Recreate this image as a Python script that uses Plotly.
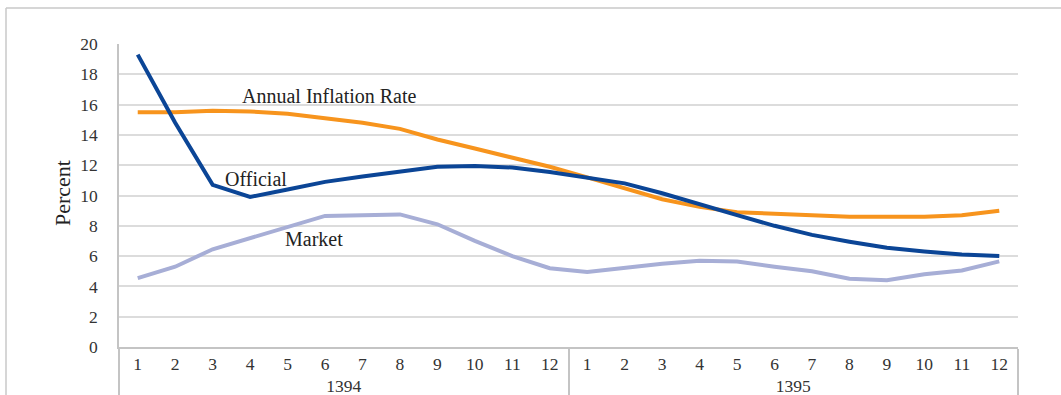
import plotly.graph_objects as go

# Monthly inflation, years 1394 and 1395 (Persian calendar), percent
years = ["1394"] * 12 + ["1395"] * 12
months = [str(m) for m in range(1, 13)] * 2

official = [19.3, 14.8, 10.7, 9.9, 10.4, 10.9, 11.25, 11.6, 11.9, 11.95, 11.85, 11.55,
            11.2, 10.8, 10.15, 9.4, 8.7, 8.0, 7.4, 6.95, 6.55, 6.3, 6.1, 6.0]
annual_inflation = [15.5, 15.5, 15.6, 15.55, 15.4, 15.1, 14.8, 14.4, 13.7, 13.1, 12.5, 11.9,
                    11.2, 10.5, 9.75, 9.25, 8.9, 8.8, 8.7, 8.6, 8.6, 8.6, 8.7, 9.0]
market = [4.55, 5.3, 6.45, 7.2, 7.95, 8.65, 8.7, 8.75, 8.1, 7.0, 6.0, 5.2,
          4.95, 5.25, 5.5, 5.7, 5.65, 5.3, 5.0, 4.5, 4.4, 4.8, 5.05, 5.65]

FONT = "Liberation Serif"
x = [years, months]

fig = go.Figure()
fig.add_trace(go.Scatter(x=x, y=market, mode="lines",
                         line=dict(color="#a7aed6", width=4), name="Market"))
fig.add_trace(go.Scatter(x=x, y=annual_inflation, mode="lines",
                         line=dict(color="#f7941d", width=4), name="Annual Inflation Rate"))
fig.add_trace(go.Scatter(x=x, y=official, mode="lines",
                         line=dict(color="#0b4596", width=4), name="Official"))

fig.update_layout(
    width=1061, height=395,
    margin=dict(l=119, r=43, t=44, b=48, autoexpand=False),
    paper_bgcolor="white", plot_bgcolor="white",
    showlegend=False,
    font=dict(family=FONT, color="#333333", size=17.5),
)

fig.update_xaxes(
    type="multicategory",
    range=[-0.5, len(months) - 0.5],
    showgrid=False,
    showline=True, linecolor="#c4c4c4", linewidth=1.5,
    ticks="",
    showdividers=True, dividercolor="#c4c4c4", dividerwidth=1.5,
    tickfont=dict(family=FONT, size=17.5, color="#333333"),
)
fig.update_yaxes(
    range=[0, 20], dtick=2,
    showgrid=True, gridcolor="#dcdcdc", gridwidth=1.5,
    zeroline=False,
    showline=True, linecolor="#c4c4c4", linewidth=1.5,
    ticks="", ticklabelstandoff=16,
    tickfont=dict(family=FONT, size=17.5, color="#333333"),
)

# Series labels drawn inside the plot
labels = [
    ("Annual Inflation Rate", 0.2347, 0.828),
    ("Official", 0.1524, 0.554),
    ("Market", 0.2169, 0.357),
]
for text, px, py in labels:
    fig.add_annotation(text=text, x=px, y=py, xref="paper", yref="paper",
                       showarrow=False, xanchor="center", yanchor="middle",
                       font=dict(family=FONT, size=20, color="#222222"))

fig.add_annotation(text="Percent", x=-0.0634, y=0.508, xref="paper", yref="paper",
                   showarrow=False, textangle=-90, xanchor="center", yanchor="middle",
                   font=dict(family=FONT, size=22, color="#222222"))

# Outer chart frame (left and top edges)
fx = (6 - 119) / 899
fy = (347 - 8) / 303
fig.add_shape(type="line", xref="paper", yref="paper", x0=fx, x1=fx, y0=fy, y1=-0.3,
              line=dict(color="#c8c8c8", width=1.5))
fig.add_shape(type="line", xref="paper", yref="paper", x0=fx, x1=1.1, y0=fy, y1=fy,
              line=dict(color="#c8c8c8", width=1.5))

fig.write_html("out.html")
